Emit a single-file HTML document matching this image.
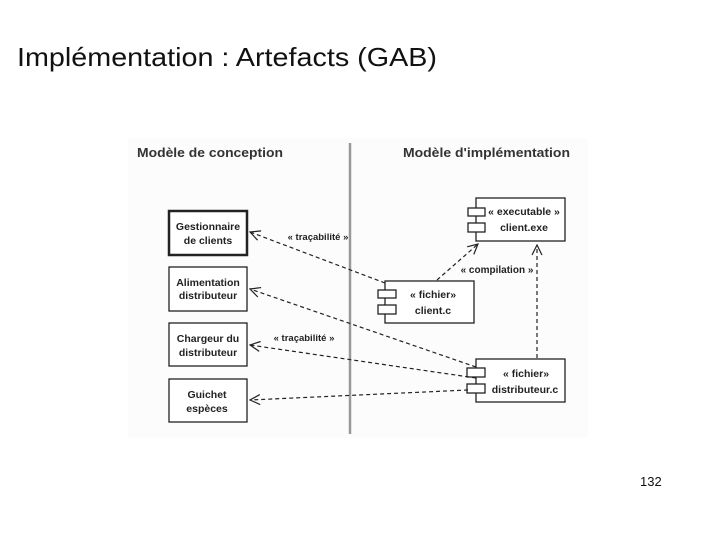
<!DOCTYPE html>
<html><head><meta charset="utf-8"><style>body{margin:0;background:#fff}svg{display:block}</style></head><body>
<svg width="720" height="540" viewBox="0 0 720 540" xmlns="http://www.w3.org/2000/svg" font-family="Liberation Sans, sans-serif">
<defs><marker id="a" markerWidth="12" markerHeight="12" refX="11" refY="6" orient="auto" markerUnits="userSpaceOnUse"><path d="M1,1 L11,6 L1,11" fill="none" stroke="#222" stroke-width="1.2"/></marker></defs>
<text x="17" y="66" font-size="26" fill="#111" textLength="420" lengthAdjust="spacingAndGlyphs">Implémentation : Artefacts (GAB)</text>
<text x="640" y="486" font-size="13" fill="#111">132</text>
<rect x="128" y="138" width="460" height="300" fill="#fcfcfc"/>
<line x1="350" y1="143" x2="350" y2="434" stroke="#999" stroke-width="2.5"/>
<g font-weight="bold" fill="#333">
<text x="137" y="157" font-size="13" textLength="146" lengthAdjust="spacingAndGlyphs">Modèle de conception</text>
<text x="403" y="157" font-size="13" textLength="167" lengthAdjust="spacingAndGlyphs">Modèle d'implémentation</text>
</g>
<g fill="#fff" stroke="#222" stroke-width="1.3">
<rect x="169" y="211" width="78" height="44" stroke-width="2.5"/>
<rect x="169" y="267" width="78" height="44"/>
<rect x="169" y="323" width="78" height="43"/>
<rect x="169" y="379" width="78" height="43"/>
<rect x="476" y="198" width="89" height="43"/>
<rect x="468" y="208" width="17" height="8"/><rect x="468" y="223" width="17" height="9"/>
<rect x="385" y="281" width="89" height="42"/>
<rect x="378" y="290" width="18" height="8"/><rect x="378" y="305" width="18" height="9"/>
<rect x="476" y="359" width="89" height="43"/>
<rect x="467" y="368" width="18" height="9"/><rect x="467" y="384" width="18" height="9"/>
</g>
<g font-size="10.5" font-weight="bold" fill="#222" text-anchor="middle">
<text x="208" y="230">Gestionnaire</text><text x="208" y="244">de clients</text>
<text x="208" y="286">Alimentation</text><text x="208" y="299">distributeur</text>
<text x="208" y="342">Chargeur du</text><text x="208" y="356">distributeur</text>
<text x="207" y="398">Guichet</text><text x="207" y="412">espèces</text>
<text x="524" y="215">« executable »</text><text x="524" y="231">client.exe</text>
<text x="433" y="298">« fichier»</text><text x="433" y="314">client.c</text>
<text x="526" y="377">« fichier»</text><text x="525" y="393">distributeur.c</text>
<text x="318" y="240" font-size="9.5">« traçabilité »</text>
<text x="304" y="341" font-size="9.5">« traçabilité »</text>
<text x="497" y="273" font-size="10">« compilation »</text>
</g>
<g stroke="#222" stroke-width="1.2" stroke-dasharray="4,3" fill="none" marker-end="url(#a)">
<line x1="385" y1="283" x2="250" y2="232"/>
<line x1="476" y1="367" x2="250" y2="289"/>
<line x1="476" y1="378" x2="250" y2="345"/>
<line x1="468" y1="390" x2="250" y2="400"/>
<line x1="437" y1="280" x2="478" y2="244"/>
<line x1="537" y1="358" x2="537" y2="245"/>
</g>
</svg>
</body></html>
